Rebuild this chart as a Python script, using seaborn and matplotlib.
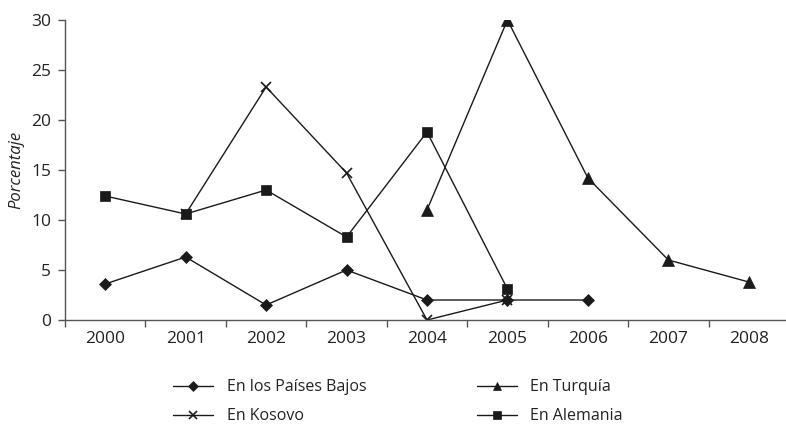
import numpy as np
import pandas as pd
import matplotlib
matplotlib.use("Agg")
import matplotlib.pyplot as plt
import seaborn as sns

years = ["2000", "2001", "2002", "2003", "2004", "2005", "2006", "2007", "2008"]
paises_bajos = [3.6, 6.3, 1.5, 5.0, 2.0, 2.0, 2.0, np.nan, np.nan]
kosovo = [np.nan, 10.6, 23.3, 14.7, 0.0, 2.0, np.nan, np.nan, np.nan]
turquia = [np.nan, np.nan, np.nan, np.nan, 11.0, 30.0, 14.2, 6.0, 3.8]
alemania = [12.4, 10.6, 13.0, 8.3, 18.8, 3.1, np.nan, np.nan, np.nan]

series = [
    ("En los Países Bajos", paises_bajos, "D", 6),
    ("En Kosovo", kosovo, "x", 7),
    ("En Turquía", turquia, "^", 8),
    ("En Alemania", alemania, "s", 7.5),
]

sns.set_theme(style="white")
plt.rcParams["font.family"] = ["Open Sans", "DejaVu Sans"]

fig = plt.figure(figsize=(7.86, 4.26), dpi=100)
ax = fig.add_axes([65 / 786, 106 / 426, 724 / 786, 300 / 426])

ink = "#1a1a1a"
text_col = "#222222"
axis_col = "#555555"
pos = np.arange(len(years))
handles = []
for name, vals, mk, ms in series:
    df = pd.DataFrame({"x": pos, "y": vals}).dropna()
    sns.lineplot(data=df, x="x", y="y", ax=ax, color=ink, linewidth=1.0,
                 marker=mk, markersize=ms, markeredgecolor=ink,
                 markerfacecolor=ink, markeredgewidth=1.2 if mk == "x" else 0.5,
                 label=name, legend=False)
    handles.append(ax.lines[-1])

ax.set_xlim(-0.5, 8.47)
ax.set_ylim(0, 30)
ax.set_yticks([0, 5, 10, 15, 20, 25, 30])
ax.set_xticks(pos)
ax.set_xticklabels(years)
ax.set_xticks(np.arange(-0.5, 9, 1), minor=True)
ax.tick_params(axis="x", which="major", bottom=False, length=0, pad=8,
               labelsize=12.5, labelcolor=text_col)
ax.tick_params(axis="x", which="minor", bottom=True, length=5, width=1,
               color=axis_col, direction="out")
ax.tick_params(axis="y", left=True, length=5, width=1, color=axis_col,
               direction="out", labelsize=12.5, pad=5, labelcolor=text_col)
for s in ["top", "right"]:
    ax.spines[s].set_visible(False)
for s in ["left", "bottom"]:
    ax.spines[s].set_color(axis_col)
    ax.spines[s].set_linewidth(1.0)
ax.set_xlabel("")
ax.set_ylabel("Porcentaje", fontstyle="italic", fontsize=12, color=text_col, labelpad=5)

fig.legend(handles=handles, labels=[s[0] for s in series], ncol=2,
           loc="upper left", bbox_to_anchor=(159 / 786, 1 - 365 / 426),
           frameon=False, fontsize=11.5, handlelength=2.5, columnspacing=6.9,
           labelspacing=0.8, handletextpad=0.85, markerscale=0.8,
           labelcolor=text_col)

fig.savefig("out.png", dpi=100)
